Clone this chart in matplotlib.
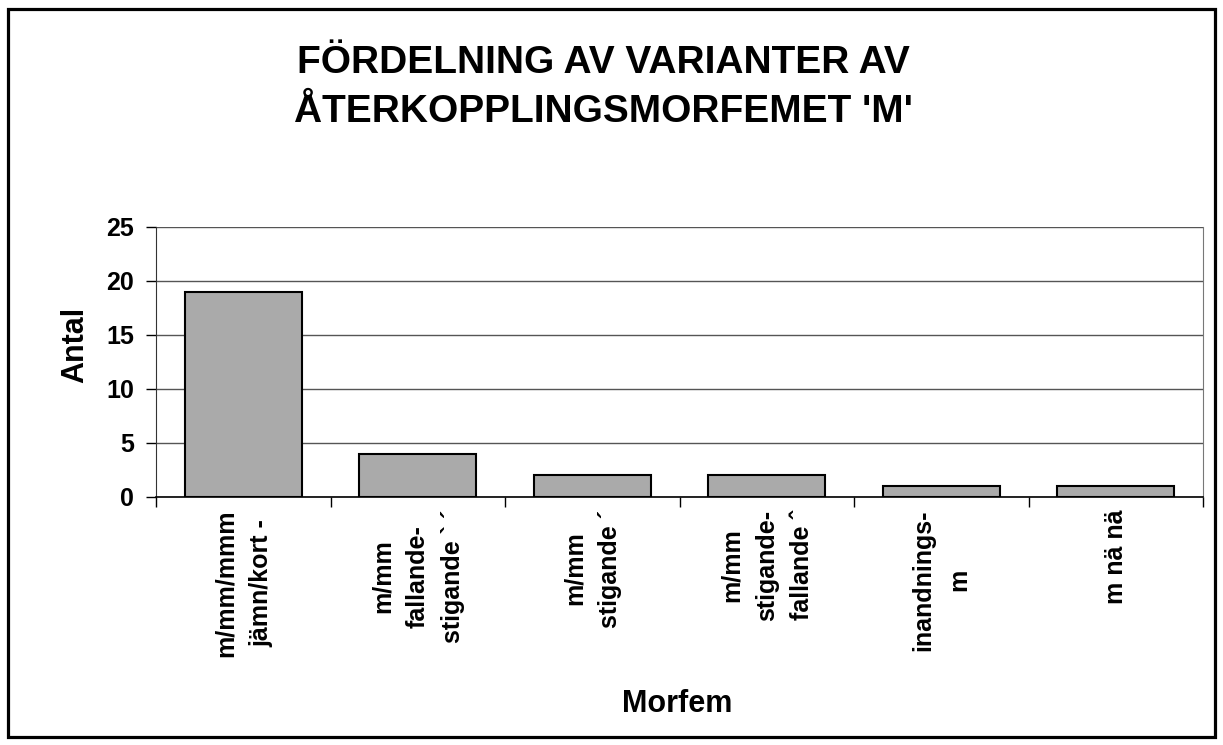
import matplotlib.pyplot as plt
from matplotlib.patches import Rectangle

# data
categories = ['m/mm/mmm\njämn/kort -',
              'm/mm\nfallande-\nstigande ` ´',
              'm/mm\nstigande ´',
              'm/mm\nstigande-\nfallande ˆ',
              'inandnings-\nm',
              'm nä nä']
counts = [19, 4, 2, 2, 1, 1]
y_ticks = [0, 5, 10, 15, 20, 25]

plt.rcParams['font.family'] = ['Liberation Sans', 'DejaVu Sans']
plt.rcParams['font.weight'] = 'bold'

W, H = 1223, 745
fig = plt.figure(figsize=(W / 100, H / 100), dpi=100)
fig.patch.set_facecolor('white')

# outer frame
fig.patches.append(Rectangle((8 / W, 8 / H), 1207 / W, 728 / H, transform=fig.transFigure,
                             fill=False, edgecolor='black', lw=2.3))

ax = fig.add_axes([156 / W, 248 / H, 1047 / W, 270 / H])
x = list(range(len(categories)))
ax.bar(x, counts, width=0.67, color='#aaaaaa', edgecolor='black', lw=1.5, zorder=3)

ax.set_xlim(-0.5, len(categories) - 0.5)
ax.set_ylim(0, 25)
ax.set_yticks(y_ticks)
ax.set_yticklabels([str(v) for v in y_ticks], fontsize=18, fontweight='bold')
ax.yaxis.grid(True, color='#555555', lw=1, zorder=0)

# category boundaries as ticks
ax.set_xticks([i - 0.5 for i in range(len(categories) + 1)])
ax.set_xticklabels([])
ax.set_xticks(x, minor=True)
ax.set_xticklabels(categories, minor=True, rotation=90, fontsize=18, fontweight='bold',
                   va='top', ha='center', multialignment='center', linespacing=1.6)
ax.tick_params(axis='x', which='minor', length=0, pad=9)
ax.tick_params(axis='x', which='major', length=7, width=1, direction='out')
ax.tick_params(axis='y', length=7, width=1, direction='out', pad=9)

ax.spines['top'].set_visible(False)
ax.spines['right'].set_color('#777777')
ax.spines['left'].set_color('#333333')
ax.spines['bottom'].set_color('black')
ax.spines['bottom'].set_linewidth(1.2)

fig.text(603 / W, 1 - 45 / H, "FÖRDELNING AV VARIANTER AV\nÅTERKOPPLINGSMORFEMET 'M'",
         ha='center', va='top', fontsize=28, fontweight='bold', linespacing=1.45)
fig.text(75 / W, 1 - 345 / H, 'Antal', rotation=90, ha='center', va='center',
         fontsize=22, fontweight='bold')
fig.text(677 / W, 1 - 712 / H, 'Morfem', ha='center', va='baseline',
         fontsize=22, fontweight='bold')

fig.savefig('out.png', dpi=100)
